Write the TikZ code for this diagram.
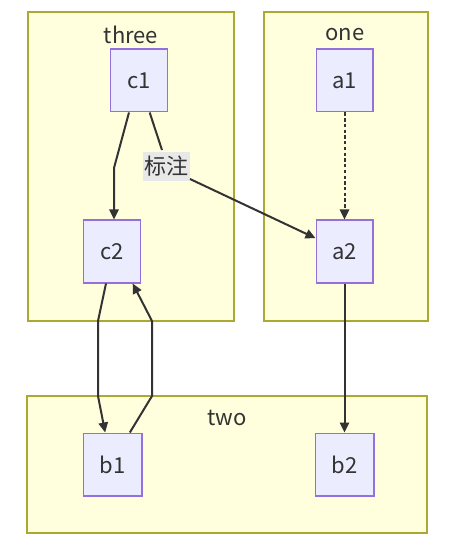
\documentclass[tikz,border=0pt]{standalone}
\usepackage{fontspec}
\setmainfont{Noto Sans CJK SC}
\usetikzlibrary{arrows.meta}
\definecolor{clfill}{HTML}{FFFFDE}
\definecolor{clline}{HTML}{AAAA33}
\definecolor{ndfill}{HTML}{ECECFF}
\definecolor{ndline}{HTML}{9370DB}
\definecolor{edge}{HTML}{333333}
\definecolor{lblbg}{HTML}{E8E8E8}
\definecolor{txt}{HTML}{333333}
\begin{document}
\begin{tikzpicture}[x=0.75pt,y=-0.75pt,
  cluster/.style={draw=clline,fill=clfill,line width=1pt},
  ttl/.style={font=\fontsize{16.5}{18}\selectfont,text=txt,inner sep=0pt},
  nd/.style={draw=ndline,fill=ndfill,line width=1pt,minimum width=42.5pt,minimum height=47pt,inner sep=0pt,font=\fontsize{16.5}{18}\selectfont,text=txt},
  ed/.style={draw=edge,line width=1.5pt,-{Triangle[length=7.5pt,width=7pt]}},
  lbl/.style={fill=lblbg,inner sep=1pt,font=\fontsize{16.5}{18}\selectfont,text=txt,minimum width=35pt,minimum height=22pt}]
\useasboundingbox (0,0) rectangle (451,548);
\fill[white] (0,0) rectangle (451,548);
% clusters
\draw[cluster] (28,12) rectangle (234,321);
\draw[cluster] (264,12) rectangle (428,321);
\draw[cluster] (27,396) rectangle (427,533);
\node[ttl] (t3) at (131,35) {three};
\node[ttl] (t1) at (345,35) {one};
\node[ttl] (t2) at (227,418) {two};
% nodes
\node[nd] (c1) at (139,80.5) {c1};
\node[nd] (c2) at (112,251.5) {c2};
\node[nd] (a1) at (344.5,80.5) {a1};
\node[nd] (a2) at (344.5,251.5) {a2};
\node[nd,minimum width=44pt] (b1) at (112.5,464.5) {b1};
\node[nd,minimum width=44pt] (b2) at (344.5,464.5) {b2};
\node[lbl] (l) at (166.5,166.5) {标注};
% edges
\coordinate (p1) at (114,168);
\draw[ed] ([xshift=-7.5pt]c1.south) -- (p1) -- (p1 |- c2.north);
\draw[draw=edge,line width=1.5pt] ([xshift=8pt]c1.south) -- (162,150);
\draw[ed] (190,179) -- ([yshift=10pt]a2.west);
\draw[ed,dash pattern=on 2.5pt off 1.8pt] (a1) -- (a2);
\draw[ed] (a2) -- (b2);
\coordinate (q1) at (98,321);
\coordinate (q2) at (98,396);
\draw[ed] ([xshift=-4.5pt]c2.south) -- (q1) -- (q2) -- ([xshift=-5.5pt]b1.north);
\coordinate (r1) at (152,396);
\coordinate (r2) at (152,321);
\draw[ed] ([xshift=13pt]b1.north) -- (r1) -- (r2) -- ([xshift=15.5pt]c2.south);
\end{tikzpicture}
\end{document}
